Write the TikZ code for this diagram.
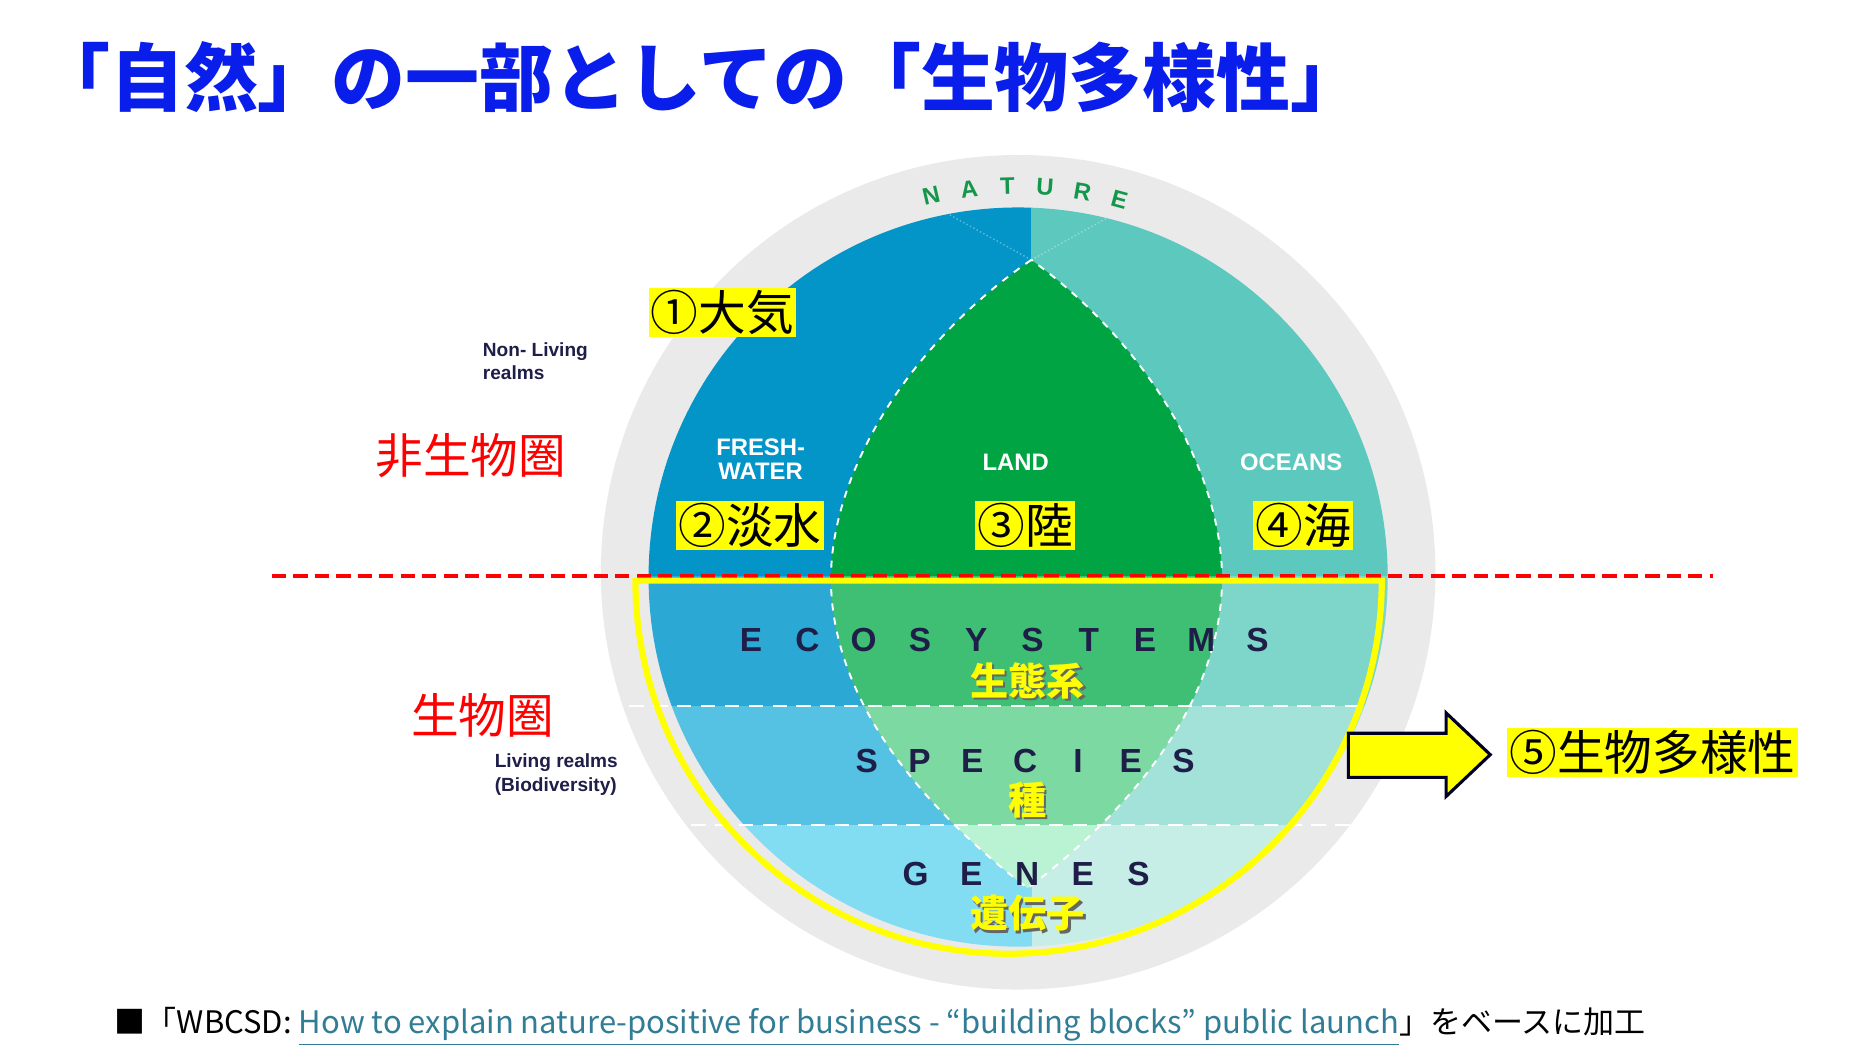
\documentclass[tikz,border=0pt]{standalone}
\usepackage{fontspec}
\setmainfont{Liberation Sans}
\newfontfamily\cjk{Noto Sans CJK JP}
\usetikzlibrary{calc}
\definecolor{ttl}{RGB}{10,30,235}
\definecolor{grayring}{RGB}{234,234,234}
\definecolor{fwA}{RGB}{3,148,200}
\definecolor{ocA}{RGB}{93,200,190}
\definecolor{lnA}{RGB}{0,164,67}
\definecolor{fwB}{RGB}{43,168,212}
\definecolor{lnB}{RGB}{63,191,116}
\definecolor{ocB}{RGB}{126,214,203}
\definecolor{fwC}{RGB}{85,194,227}
\definecolor{lnC}{RGB}{125,217,162}
\definecolor{ocC}{RGB}{162,226,217}
\definecolor{fwD}{RGB}{130,220,242}
\definecolor{lnD}{RGB}{185,243,211}
\definecolor{ocD}{RGB}{198,238,230}
\definecolor{navy}{RGB}{30,30,72}
\definecolor{natgreen}{RGB}{20,150,75}
\definecolor{linkc}{RGB}{50,125,150}
\definecolor{hl}{RGB}{255,255,0}
\tikzset{
  lbl/.style={font=\cjk\fontsize{20pt}{22pt}\selectfont, fill=hl, inner sep=1pt, text=black},
  wlbl/.style={font=\bfseries\fontsize{10pt}{12pt}\selectfont, text=white, align=center},
  glbl/.style={font=\bfseries\fontsize{8pt}{10pt}\selectfont, text=navy, align=left, anchor=west},
  redlbl/.style={font=\cjk\fontsize{20pt}{22pt}\selectfont, text=red},
  sp/.style={font=\bfseries\fontsize{14pt}{16pt}\selectfont, text=navy},
  yj/.style={font=\cjk\bfseries\fontsize{16pt}{18pt}\selectfont, text=hl},
  yjs/.style={font=\cjk\bfseries\fontsize{16pt}{18pt}\selectfont, text=black!60},
}
\begin{document}
\begin{tikzpicture}[x=0.5pt,y=-0.5pt]
\useasboundingbox (0,0) rectangle (1561,890);
\fill[white] (0,0) rectangle (1561,890);
% title
\node[anchor=west, text=ttl, font=\cjk\bfseries\fontsize{31pt}{34pt}\selectfont, inner sep=0] (title) at (30,65) {「自然」の一部としての「生物多様性」};
% outer ring
\fill[grayring] (854,480) circle[radius=175pt];
% inner disc
\begin{scope}
\clip (854,484) circle[radius=155pt];
\fill[fwA] (500,100) rectangle (865,483);
\fill[ocA] (865,100) rectangle (1200,483);
\fill[fwB] (500,483) rectangle (866,592);
\fill[ocB] (866,483) rectangle (1200,592);
\fill[fwC] (500,592) rectangle (866,692);
\fill[ocC] (866,592) rectangle (1200,692);
\fill[fwD] (500,692) rectangle (866,900);
\fill[ocD] (866,692) rectangle (1200,900);
\draw[white, opacity=0.35, densely dotted, line width=0.6pt] (865,218) -- (760,160);
\draw[white, opacity=0.35, densely dotted, line width=0.6pt] (865,218) -- (970,160);
\end{scope}
\begin{scope}
\clip (865,218) .. controls (760,290) and (695,400) .. (697,490) .. controls (700,600) and (790,690) .. (862,745) .. controls (935,690) and (1022,600) .. (1025,490) .. controls (1027,400) and (965,290) .. (865,218) -- cycle;
\fill[lnA] (600,150) rectangle (1100,483);
\fill[lnB] (600,483) rectangle (1100,592);
\fill[lnC] (600,592) rectangle (1100,692);
\fill[lnD] (600,692) rectangle (1100,800);
\end{scope}
\draw[white, dashed, line width=0.8pt] (865,218) .. controls (760,290) and (695,400) .. (697,490) .. controls (700,600) and (790,690) .. (862,745) .. controls (935,690) and (1022,600) .. (1025,490) .. controls (1027,400) and (965,290) .. (865,218);
\draw[white, dashed, line width=0.8pt, dash pattern=on 6pt off 4pt] (528,592) -- (1140,592);
\draw[white, dashed, line width=0.8pt, dash pattern=on 6pt off 4pt] (540,692) -- (1135,692);
% NATURE
\foreach \c/\a in {N/103,A/97.3,T/91.6,U/86,R/80.4,E/74.8}
  \node[rotate=\a-90, text=natgreen, font=\bfseries\fontsize{10pt}{12pt}\selectfont] at ([shift={(\a:162pt)}]854,480) {\c};
% region labels
\node[wlbl] (fw) at (638,385) {FRESH-\\[-2pt]WATER};
\node[wlbl] (land) at (852,388) {LAND};
\node[wlbl] (oc) at (1083,388) {OCEANS};
\node[lbl] (l1) at (606,262) {①大気};
\node[lbl] (l2) at (629,441) {②淡水};
\node[lbl] (l3) at (860,441) {③陸};
\node[lbl] (l4) at (1093,441) {④海};
% side labels
\node[glbl] (nl) at (398,303) {Non- Living\\realms};
\node[redlbl] (nb) at (395,382) {非生物圏};
\node[redlbl] (bb) at (405,600) {生物圏};
\node[glbl] (lr) at (408,650) {Living realms\\(Biodiversity)};
% red line
\draw[red, line width=1.6pt, dash pattern=on 6pt off 3pt] (228,483) -- (1437,483);
% spaced words
\foreach \c [count=\i from 0] in {E,C,O,S,Y,S,T,E,M,S}
  \node[sp] at (630+47.2*\i,537) {\c};
\foreach \c [count=\i from 0] in {S,P,E,C,I,E,S}
  \node[sp] at (727+44.3*\i,638) {\c};
\foreach \c [count=\i from 0] in {G,E,N,E,S}
  \node[sp] at (768+46.75*\i,733) {\c};
\node[yjs] at (864,573) {生態系};
\node[yj] (j1) at (862,571) {生態系};
\node[yjs] at (864,673) {種};
\node[yj] (j2) at (862,671) {種};
\node[yjs] at (864,768) {遺伝子};
\node[yj] (j3) at (862,766) {遺伝子};
% yellow outline
\draw[hl, line width=2.6pt] (546,487) -- (1159,487) arc[start angle=0, end angle=-180, radius=156.5pt] -- cycle;
% arrow
\draw[fill=hl, draw=black!85!blue, line width=1.3pt, line join=miter] (1131,615) -- (1213,615) -- (1213,598) -- (1250,633) -- (1213,668) -- (1213,652) -- (1131,652) -- cycle;
\node[lbl] (l5) at (1386,631) {⑤生物多様性};
% footer
\node[anchor=west, inner sep=0, font=\cjk\fontsize{13pt}{15pt}\selectfont] (foot) at (96,861) {■「WBCSD:\ \textcolor{linkc}{\underline{How to explain nature-positive for business - “building blocks” public launch}}」をベースに加工};
\end{tikzpicture}
\end{document}
